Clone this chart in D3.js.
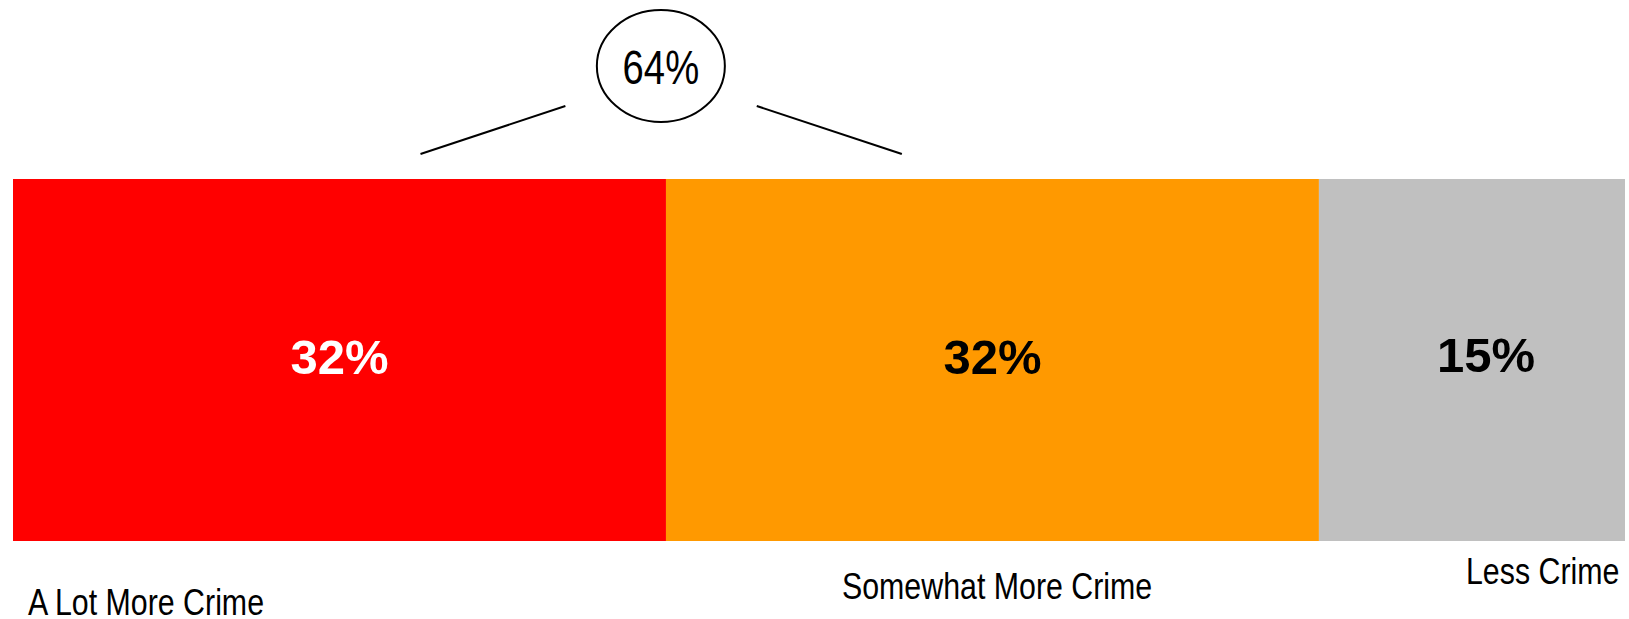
<!DOCTYPE html>
<html>
<head>
<meta charset="utf-8">
<script src="https://cdn.jsdelivr.net/npm/d3@7"></script>
<style>
  html, body { margin: 0; padding: 0; background: #fff; }
  svg { display: block; }
</style>
</head>
<body>
<svg id="chart" width="1629" height="619"></svg>
<script>
// ---- data ----
const categories = ["A Lot More Crime", "Somewhat More Crime", "Less Crime"];
const values = [32, 32, 15];
const valueLabels = ["32%", "32%", "15%"];
const colors = ["#ff0000", "#ff9900", "#c0c0c0"];
const labelColors = ["#ffffff", "#000000", "#000000"];
const combinedLabel = "64%";

// ---- layout ----
const barTop = 179, barBottom = 541;
const narrow = 0.82; // horizontal squeeze to mimic a narrow typeface
const svg = d3.select("#chart");

const total = d3.sum(values);
const x = d3.scaleLinear().domain([0, total]).range([13, 1625]);

const starts = [];
values.reduce((acc, v, i) => { starts[i] = acc; return acc + v; }, 0);

// bars
svg.selectAll("rect.bar").data(values).join("rect")
  .attr("class", "bar")
  .attr("x", (d, i) => x(starts[i]))
  .attr("y", barTop)
  .attr("width", (d, i) => x(starts[i] + d) - x(starts[i]))
  .attr("height", barBottom - barTop)
  .attr("fill", (d, i) => colors[i]);

// value labels inside bars
const valOffsetX = [0, 0, 14];
const valBaseline = [374, 374, 372];
svg.selectAll("text.val").data(values).join("text")
  .attr("class", "val")
  .attr("x", (d, i) => x(starts[i] + d / 2) + valOffsetX[i])
  .attr("y", (d, i) => valBaseline[i])
  .attr("text-anchor", "middle")
  .attr("font-family", "'Liberation Sans', Arial, sans-serif")
  .attr("font-weight", "bold")
  .attr("font-size", 49)
  .attr("fill", (d, i) => labelColors[i])
  .text((d, i) => valueLabels[i]);

// category labels below (staggered like the original)
const catX = [28, 842, 1466];
const catBaseline = [615, 599, 584];
svg.selectAll("text.cat").data(categories).join("text")
  .attr("class", "cat")
  .attr("transform", (d, i) => `translate(${catX[i]},${catBaseline[i]}) scale(${narrow},1)`)
  .attr("text-anchor", "start")
  .attr("font-family", "'Liberation Sans', Arial, sans-serif")
  .attr("font-size", 37)
  .attr("fill", "#000")
  .text(d => d);

// combined annotation: ellipse + two lines
const ann = { cx: 31.75, leftFrom: 19.97, leftTo: 27.07, rightFrom: 36.45, rightTo: 43.56 };
svg.append("ellipse")
  .attr("cx", x(ann.cx)).attr("cy", 66)
  .attr("rx", 64).attr("ry", 56)
  .attr("fill", "#fff").attr("stroke", "#000").attr("stroke-width", 2);
svg.append("text")
  .attr("transform", `translate(${x(ann.cx)},84) scale(0.78,1)`)
  .attr("text-anchor", "middle")
  .attr("font-family", "'Liberation Sans', Arial, sans-serif")
  .attr("font-size", 49)
  .attr("fill", "#000")
  .text(combinedLabel);
svg.append("line")
  .attr("x1", x(ann.leftFrom)).attr("y1", 154)
  .attr("x2", x(ann.leftTo)).attr("y2", 106)
  .attr("stroke", "#000").attr("stroke-width", 2);
svg.append("line")
  .attr("x1", x(ann.rightFrom)).attr("y1", 106)
  .attr("x2", x(ann.rightTo)).attr("y2", 154)
  .attr("stroke", "#000").attr("stroke-width", 2);
</script>
</body>
</html>
